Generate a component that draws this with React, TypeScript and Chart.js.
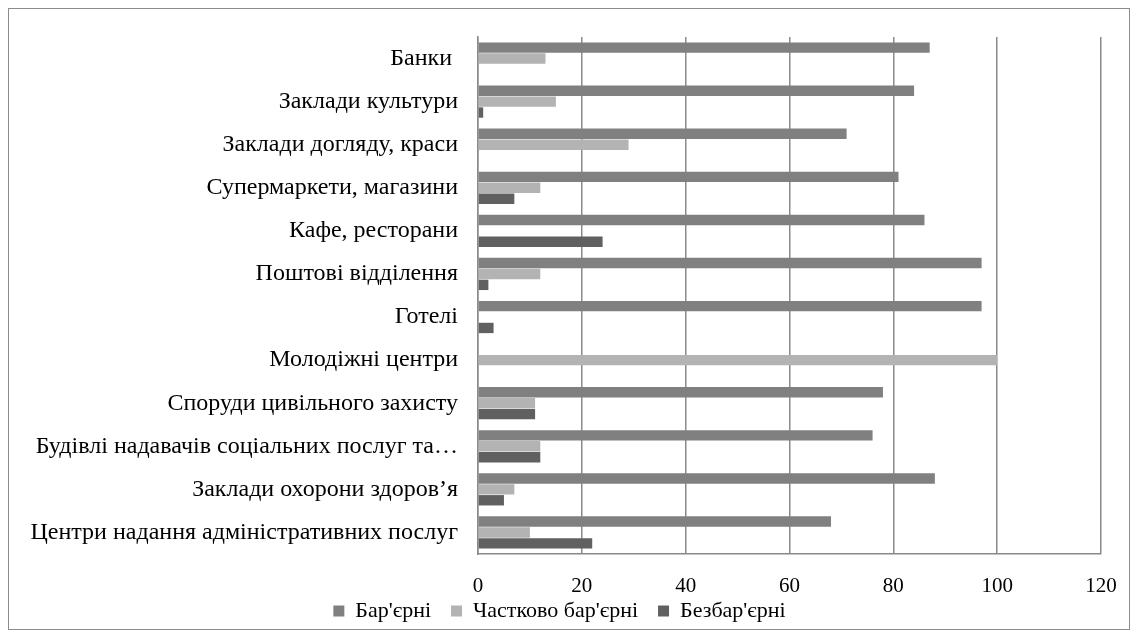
import React, { useEffect, useRef } from "react";
import { Chart, registerables } from "chart.js";

Chart.register(...registerables);

const categories = [
  "Банки ",
  "Заклади культури",
  "Заклади догляду, краси",
  "Супермаркети, магазини",
  "Кафе, ресторани",
  "Поштові відділення",
  "Готелі",
  "Молодіжні центри",
  "Споруди цивільного захисту",
  "Будівлі надавачів соціальних послуг та…",
  "Заклади охорони здоров’я",
  "Центри надання адміністративних послуг",
];

const barrier = [87, 84, 71, 81, 86, 97, 97, 0, 78, 76, 88, 68];
const partial = [13, 15, 29, 12, 0, 12, 0, 100, 11, 12, 7, 10];
const barrierFree = [0, 1, 0, 7, 24, 2, 3, 0, 11, 12, 5, 22];

const seriesNames = ["Бар'єрні", "Частково бар'єрні", "Безбар'єрні"];
const xTicks = [0, 20, 40, 60, 80, 100, 120];

const FONT = "'Liberation Serif', 'Times New Roman', serif";

// Legend sits closer to the axis labels than Chart.js would place it.
const legendPlacement = {
  id: "legendPlacement",
  beforeLayout(chart: any) {
    const lg = chart.legend;
    if (lg && !lg._patched) {
      const orig = lg.fit;
      lg.fit = function () {
        orig.call(this);
        this.height = 30;
      };
      lg._patched = true;
    }
  },
  afterLayout(chart: any) {
    const lg = chart.legend;
    if (lg) {
      lg.top -= 19;
      lg.height = 60;
      lg.bottom = lg.top + 60;
    }
  },
};

export default function App() {
  const ref = useRef<HTMLCanvasElement | null>(null);

  useEffect(() => {
    if (!ref.current) return;
    const chart = new Chart(ref.current, {
      type: "bar",
      data: {
        labels: categories,
        datasets: [
          { label: seriesNames[0], data: barrier, backgroundColor: "#808080" },
          { label: seriesNames[1], data: partial, backgroundColor: "#b3b3b3" },
          { label: seriesNames[2], data: barrierFree, backgroundColor: "#606060" },
        ],
      },
      plugins: [legendPlacement],
      options: {
        indexAxis: "y",
        responsive: false,
        animation: false,
        maintainAspectRatio: false,
        layout: { padding: { top: 28, left: 9, right: 28, bottom: 0 } },
        datasets: { bar: { categoryPercentage: 0.76, barPercentage: 0.95 } },
        scales: {
          x: {
            min: 0,
            max: 120,
            afterBuildTicks: (s: any) => {
              s.ticks = xTicks.map((v) => ({ value: v }));
            },
            afterFit: (s: any) => {
              s.height = 45;
              s.paddingLeft = 0;
              s.paddingRight = 0;
            },
            grid: { color: "#8a8a8a", lineWidth: 1.5, drawTicks: false },
            border: { color: "#8a8a8a", width: 1.5 },
            ticks: {
              color: "#000",
              padding: 20,
              font: { family: FONT, size: 21 },
            },
          },
          y: {
            afterFit: (s: any) => {
              s.width = 460;
              s.paddingTop = 0;
              s.paddingBottom = 0;
            },
            grid: { display: false, drawTicks: false },
            border: { color: "#8a8a8a", width: 1.5 },
            ticks: {
              color: "#000",
              padding: 20,
              autoSkip: false,
              font: { family: FONT, size: 24 },
            },
          },
        },
        plugins: {
          tooltip: { enabled: false },
          legend: {
            position: "bottom",
            labels: {
              color: "#000",
              boxWidth: 11,
              boxHeight: 11,
              padding: 20,
              font: { family: FONT, size: 22 },
            },
          },
        },
      },
    });
    return () => chart.destroy();
  }, []);

  return (
    <div
      style={{
        width: 1120,
        height: 620,
        border: "1.5px solid #8c8c8c",
        background: "#fff",
      }}
    >
      <canvas ref={ref} width={1120} height={620} style={{ display: "block" }} />
    </div>
  );
}
